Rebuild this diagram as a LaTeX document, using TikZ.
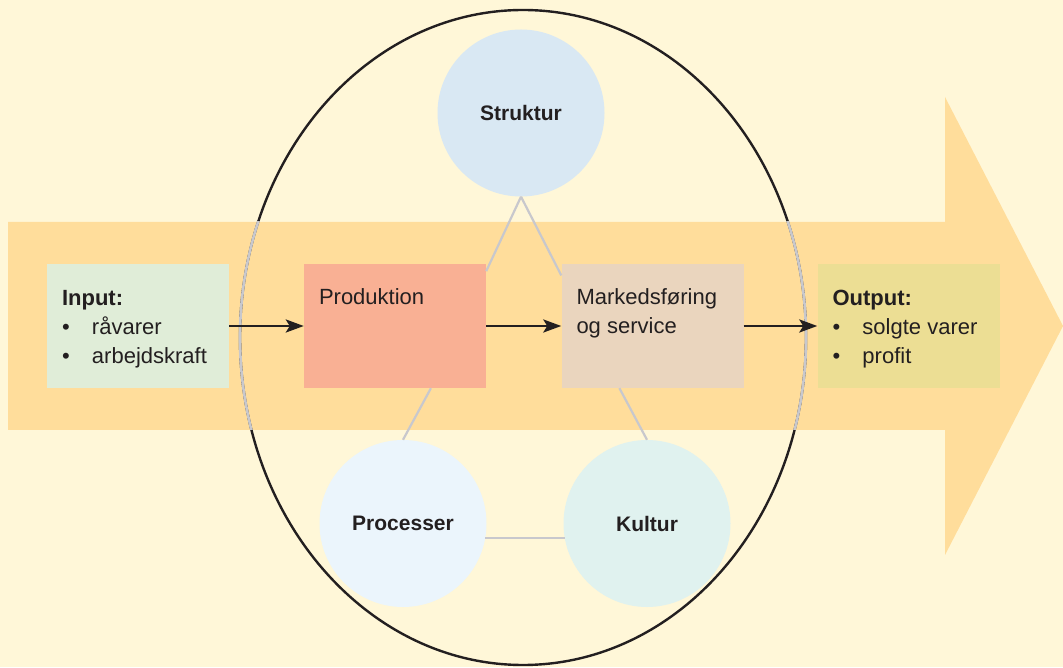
\documentclass[tikz,border=0pt]{standalone}
\usepackage{fontspec}
\setmainfont{Liberation Sans}
\usetikzlibrary{arrows.meta}

\definecolor{bgyellow}{RGB}{255,247,216}
\definecolor{bandorange}{RGB}{255,221,155}
\definecolor{inputgreen}{RGB}{224,237,216}
\definecolor{prodsalmon}{RGB}{249,176,148}
\definecolor{markbeige}{RGB}{234,213,190}
\definecolor{outputolive}{RGB}{236,222,148}
\definecolor{struktblue}{RGB}{217,232,243}
\definecolor{procblue}{RGB}{235,245,252}
\definecolor{kultmint}{RGB}{224,242,239}
\definecolor{linegrey}{RGB}{200,200,205}
\definecolor{ink}{RGB}{35,31,32}

\tikzset{
  box/.style={rectangle, minimum width=182pt, minimum height=124pt, inner sep=0pt},
  bubble/.style={circle, minimum size=167pt, inner sep=0pt, text=ink,
    font=\bfseries\fontsize{21}{25}\selectfont},
  boxtext/.style={anchor=north west, inner sep=0pt, align=left, text=ink,
    font=\fontsize{22}{29}\selectfont},
  flow/.style={draw=ink, line width=2.8pt, -{Stealth[length=18pt,width=13pt,inset=4pt]}},
  link/.style={draw=linegrey, line width=2.2pt},
}
\newcommand{\bul}{\makebox[30pt][l]{\textbullet}}

\begin{document}
\begin{tikzpicture}[x=1pt,y=1pt]
    \fill[bgyellow] (0,0) rectangle (1063,667);
    \fill[bandorange] (8,445) -- (945,445) -- (945,570) -- (1063,341)
      -- (945,112) -- (945,237) -- (8,237) -- cycle;
    % ring round the organisation
    \draw[ink, line width=2.4pt] (523,329.5) ellipse [x radius=283pt, y radius=327.5pt];
    \begin{scope}
      \clip (0,237) rectangle (1063,445);
      \draw[linegrey, line width=2.6pt] (523,329.5) ellipse [x radius=283pt, y radius=327.5pt];
    \end{scope}

    \node[bubble, fill=struktblue] (strukt) at (521,554) {Struktur};
    \node[bubble, fill=procblue] (proc) at (403,143.5) {Processer};
    \node[bubble, fill=kultmint] (kult) at (647,143.5) {Kultur};

    \node[box, fill=inputgreen] (inp) at (138,341) {};
    \node[box, fill=prodsalmon] (prod) at (395,341) {};
    \node[box, fill=markbeige] (mark) at (652.5,341) {};
    \node[box, fill=outputolive] (outp) at (908.5,341) {};

    \draw[link] (strukt.south) -- (prod.31);
    \draw[link] (strukt.south) -- (mark.151);
    \draw[link] (proc.north) -- (prod.-60);
    \draw[link] (kult.north) -- (mark.-118);
    \draw[link] (proc.-10) -- (kult.190);

    \draw[flow] (inp) -- (prod);
    \draw[flow] (prod) -- (mark);
    \draw[flow] (mark) -- (outp);

    \node[boxtext] (inptext) at ([shift={(15,-26)}]inp.north west)
      {\textbf{Input:}\\ \bul råvarer\\ \bul arbejdskraft};
    \node[boxtext] (prodtext) at ([shift={(15,-25)}]prod.north west) {Produktion};
    \node[boxtext] (marktext) at ([shift={(15,-25)}]mark.north west) {Markedsføring\\og service};
    \node[boxtext] (outptext) at ([shift={(15,-26)}]outp.north west)
      {\textbf{Output:}\\ \bul solgte varer\\ \bul profit};
  \end{tikzpicture}
\end{document}
